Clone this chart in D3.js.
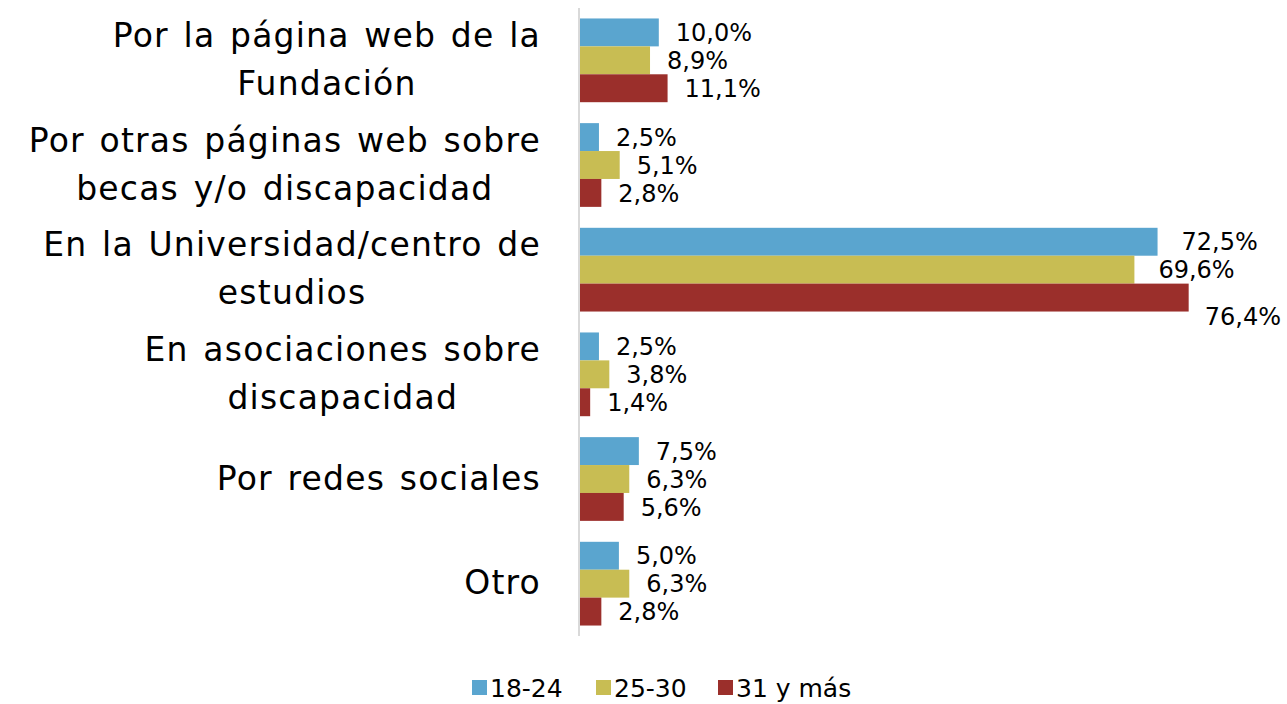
<!DOCTYPE html>
<html>
<head>
  <meta charset="utf-8">
  <title>Medio de conocimiento</title>
  <style>
    body { margin: 0; background: #fff; }
    text { font-family: 'DejaVu Sans', sans-serif; fill: #000; }
  </style>
</head>
<body>
  <div id='chart'></div>
  <script src="https://d3js.org/d3.v7.min.js"></script>
  <script>

    let categories = [
      ['Por la página web de la', 'Fundación'],
      ['Por otras páginas web sobre', 'becas y/o discapacidad'],
      ['En la Universidad/centro de', 'estudios'],
      ['En asociaciones sobre', 'discapacidad'],
      ['Por redes sociales'],
      ['Otro']
    ];
    let series = ['18-24', '25-30', '31 y más'];
    let colors = ['#5AA5CF', '#C8BD53', '#9B2F2B'];
    let v1824 = [10.0, 2.5, 72.5, 2.5, 7.5, 5.0];
    let v2530 = [8.9, 5.1, 69.6, 3.8, 6.3, 6.3];
    let v31 = [11.1, 2.8, 76.4, 1.4, 5.6, 2.8];
    let values = [v1824, v2530, v31];

    function translate(x, y) {
      return 'translate(' + x + ',' + y + ')';
    }

    let svgWidth = 1287;
    let svgHeight = 704;
    let axisX = 579;

    let svg = d3.select('#chart')
      .append('svg')
      .attr('width', svgWidth)
      .attr('height', svgHeight);

    let x = d3.scaleLinear()
      .domain([0, 100])
      .range([axisX, axisX + 798]);

    let y = d3.scaleBand()
      .domain(d3.range(categories.length))
      .range([8, 636])
      .paddingInner(0.2)
      .paddingOuter(0.1);

    let y1 = d3.scaleBand()
      .domain(d3.range(series.length))
      .range([0, y.bandwidth()]);

    let fmt = v => d3.format('.1f')(v).replace('.', ',') + '%';

    let groups = svg.selectAll('g.cat')
      .data(categories)
      .enter()
      .append('g')
      .attr('class', 'cat')
      .attr('transform', (d, i) => translate(0, y(i)));

    series.forEach(function(s, j) {
      groups.append('rect')
        .attr('x', x(0))
        .attr('y', y1(j))
        .attr('width', (d, i) => x(values[j][i]) - x(0))
        .attr('height', y1.bandwidth())
        .style('fill', colors[j]);

      groups.append('text')
        .attr('x', (d, i) => x(values[j][i]) + (values[j][i] > 50 ? 24 : 17))
        .attr('y', y1(j) + y1.bandwidth() / 2)
        .attr('dy', '0.36em')
        .style('font-size', '24px')
        .text((d, i) => fmt(values[j][i]))
        .each(function() {
          // labels that run off the right edge get nudged left and down
          let t = d3.select(this);
          let w = this.getComputedTextLength();
          let x0 = +t.attr('x');
          if (x0 + w > svgWidth - 6) {
            t.attr('x', svgWidth - 6 - w)
              .attr('y', +t.attr('y') + 19);
          }
        });
    });

    // category labels: block right aligned, lines centered
    let labelRight = 541;
    let lineH = 48;
    categories.forEach(function(lines, i) {
      let g = svg.append('g');
      let texts = g.selectAll('text')
        .data(lines)
        .enter()
        .append('text')
        .style('font-size', '33px')
        .style('letter-spacing', '1.2px')
        .style('word-spacing', '3px')
        .attr('text-anchor', 'middle')
        .attr('y', (d, k) => y(i) + (y.bandwidth() / 2) + (k - (lines.length - 1) / 2) * lineH - 1)
        .attr('dy', '0.35em')
        .text(d => d);
      let maxW = d3.max(texts.nodes(), n => n.getComputedTextLength());
      texts.attr('x', labelRight - maxW / 2);
    });

    // axis line
    svg.append('line')
      .attr('x1', axisX)
      .attr('x2', axisX)
      .attr('y1', 8)
      .attr('y2', 636)
      .style('stroke', '#D9D9D9')
      .style('stroke-width', 2);

    // legend
    let legendX = [472, 596, 718];
    let legend = svg.selectAll('g.legend')
      .data(series)
      .enter()
      .append('g')
      .attr('class', 'legend')
      .attr('transform', (d, i) => translate(legendX[i], 688));

    legend.append('rect')
      .attr('x', 0)
      .attr('y', -8)
      .attr('width', 15)
      .attr('height', 15)
      .style('fill', (d, i) => colors[i]);

    legend.append('text')
      .attr('x', 18)
      .attr('dy', '0.36em')
      .style('font-size', '25px')
      .text(d => d);

  </script>
</body>
</html>
